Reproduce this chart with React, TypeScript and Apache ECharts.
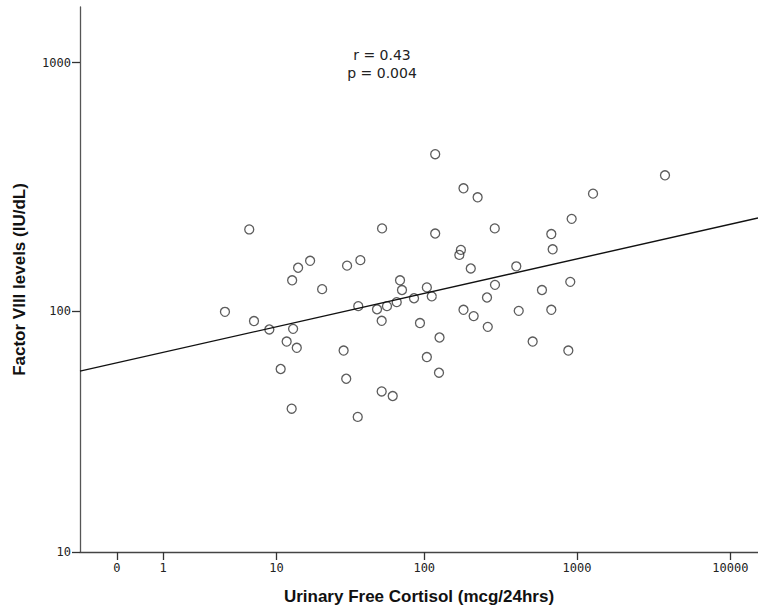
import React, { useEffect, useRef } from "react";
import * as echarts from "echarts";

const cortisol = [
  118, 181, 224, 6.3, 52.6, 118, 174, 170, 202, 14.2,
  17.2, 12.9, 30.7, 37.7, 69.2, 20.8, 71.3, 104, 112, 85.6,
  65.8, 56.7, 48.7, 36.5, 52.3, 93.7, 4.07, 6.84, 8.87, 13.1,
  11.8, 13.9, 29.1, 126, 104, 125, 10.7, 30.3, 52.3, 61.9,
  12.8, 36.2, 181, 211, 3746, 1271, 922, 290, 679, 693,
  401, 291, 903, 258, 590, 416, 679, 261, 513, 877,
];
const factorVIII = [
  429, 313, 288, 214, 216, 206, 177, 169, 149, 150,
  160, 133.5, 153, 161, 133.5, 123, 122, 125, 115, 113,
  109, 105, 102, 105, 91.6, 89.7, 99.6, 91.4, 84.5, 85,
  75.5, 71.2, 69.4, 78.4, 65.3, 56.4, 58.4, 53.3, 47.3, 45.3,
  40.2, 37.2, 101.5, 95.7, 353, 298, 236, 216, 205, 178,
  152, 128, 131.6, 113.8, 122, 100.5, 101.5, 86.6, 75.5, 69.4,
];
const xTicks = [0, 1, 10, 100, 1000, 10000];
const yTicks = [10, 100, 1000];
// regression in log10(v+1) space
const fitIntercept = 1.7984;
const fitSlope = 0.1387;
const statLines = ["r = 0.43", "p = 0.004"];

const t = (v: number) => Math.log10(v + 1);
const inv = (v: number) => Math.round(Math.pow(10, v) - 1);

export default function App() {
  const ref = useRef<HTMLDivElement>(null);
  useEffect(() => {
    if (!ref.current) return;
    const chart = echarts.init(ref.current, null, { renderer: "svg" });
    const xMin = -0.24;
    const xMax = 4.18;
    const yMin = t(10);
    const yMax = 3.2226;
    const points = cortisol.map((c, i) => [t(c), t(factorVIII[i])]);
    const fit = [xMin, xMax].map((x) => [x, fitIntercept + fitSlope * x]);
    const tickFont = {
      fontFamily: "DejaVu Sans Mono",
      fontSize: 12,
      color: "#222",
    };
    const nameFont = {
      fontFamily: "Liberation Sans",
      fontWeight: "bold",
      fontSize: 17,
      color: "#111",
    };
    chart.setOption({
      animation: false,
      backgroundColor: "#fff",
      grid: { left: 80, right: 0, top: 7, bottom: 62, containLabel: false },
      xAxis: {
        type: "value",
        min: xMin,
        max: xMax,
        name: "Urinary Free Cortisol (mcg/24hrs)",
        nameLocation: "middle",
        nameGap: 36,
        nameTextStyle: nameFont,
        axisLine: { show: true, onZero: false, lineStyle: { color: "#444", width: 1.3 } },
        axisTick: {
          show: true,
          length: 8,
          lineStyle: { color: "#333", width: 1.3 },
          customValues: xTicks.map(t),
        },
        axisLabel: {
          ...tickFont,
          margin: 10,
          customValues: xTicks.map(t),
          formatter: (v: number) => String(inv(v)),
        },
        splitLine: { show: false },
      },
      yAxis: {
        type: "value",
        min: yMin,
        max: yMax,
        name: "Factor VIII levels (IU/dL)",
        nameLocation: "middle",
        nameGap: 52,
        nameRotate: 90,
        nameTextStyle: nameFont,
        axisLine: { show: true, onZero: false, lineStyle: { color: "#555", width: 1.3 } },
        axisTick: {
          show: true,
          length: 8,
          lineStyle: { color: "#333", width: 1.3 },
          customValues: yTicks.map(t),
        },
        axisLabel: {
          ...tickFont,
          margin: 9,
          customValues: yTicks.map(t),
          formatter: (v: number) => String(inv(v)),
        },
        splitLine: { show: false },
      },
      series: [
        {
          type: "line",
          data: fit,
          symbol: "none",
          lineStyle: { color: "#111", width: 1.4 },
          silent: true,
        },
        {
          type: "scatter",
          data: points,
          symbol: "circle",
          symbolSize: 9,
          itemStyle: {
            color: "rgba(0,0,0,0)",
            borderColor: "#333",
            borderWidth: 1.3,
          },
        },
      ],
      graphic: statLines.map((s, i) => ({
        type: "text",
        x: 382,
        y: 55 + i * 18,
        style: {
          text: s,
          fontFamily: "DejaVu Sans",
          fontSize: 14,
          fill: "#222",
          textAlign: "center",
          textVerticalAlign: "middle",
        },
      })),
    });
    return () => chart.dispose();
  }, []);
  return (
    <div
      ref={ref}
      style={{ position: "fixed", left: 0, top: 0, width: 758, height: 614 }}
    />
  );
}
